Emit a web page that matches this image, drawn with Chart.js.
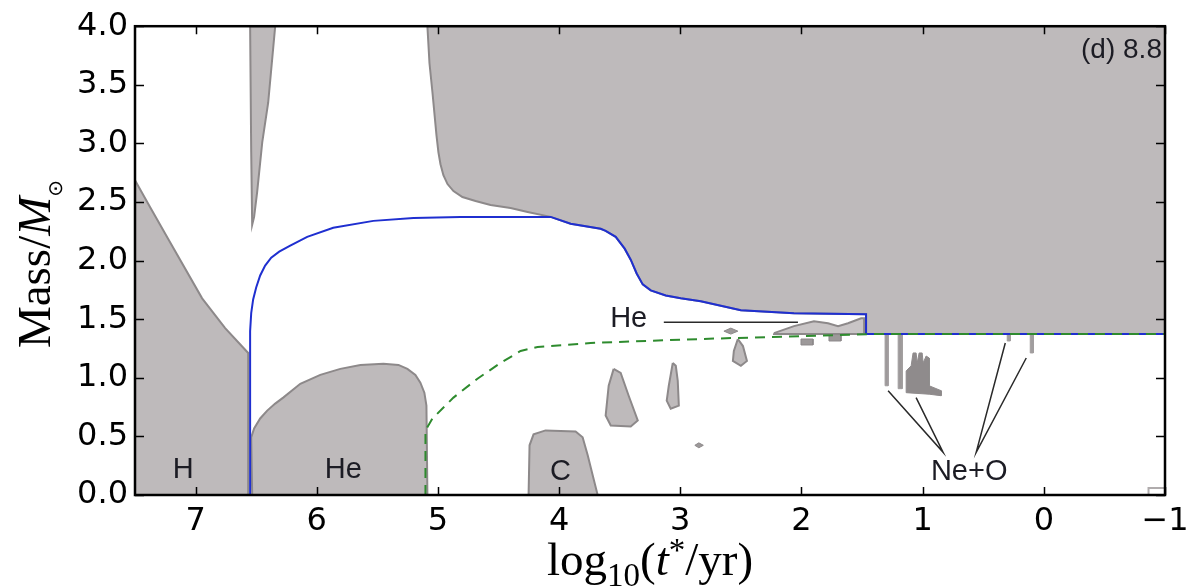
<!DOCTYPE html>
<html>
<head>
<meta charset="utf-8">
<script src="https://cdn.jsdelivr.net/npm/chart.js@4.4.1/dist/chart.umd.min.js"></script>
<style>
  html, body { margin: 0; padding: 0; background: #ffffff; }
  #wrap { width: 1204px; height: 587px; }
</style>
</head>
<body>
<div id="wrap"><canvas id="kippChart"></canvas></div>
<script>
// axis ticks
const xTicks = [7, 6, 5, 4, 3, 2, 1, 0, -1];
const yTicks = [0, 0.5, 1, 1.5, 2, 2.5, 3, 3.5, 4];

// convective regions (log10 t*, mass)
const hCoreX = [7.5, 7.376, 7.227, 6.946, 6.756, 6.566, 6.566, 7.5];
const hCoreY = [2.686, 2.458, 2.186, 1.678, 1.424, 1.212, 0, 0];
const spikeX = [6.550, 6.541, 6.533, 6.517, 6.492, 6.450, 6.401, 6.343];
const spikeY = [4.0, 2.924, 2.305, 2.373, 2.585, 3.008, 3.347, 4.0];
const heCoreX = [6.533, 6.541, 6.517, 6.467, 6.409, 6.343, 6.277, 6.136, 5.971, 5.806, 5.640, 5.450, 5.326, 5.252, 5.186, 5.145, 5.112, 5.095, 5.087];
const heCoreY = [0, 0.492, 0.568, 0.653, 0.720, 0.780, 0.831, 0.949, 1.025, 1.076, 1.110, 1.119, 1.110, 1.076, 1.025, 0.958, 0.873, 0.763, 0];
const envX = [5.087, 5.070, 5.045, 5.012, 4.996, 4.979, 4.955, 4.921, 4.872, 4.798, 4.690, 4.566, 4.401, 4.260, 4.070, 3.905, 3.657, 3.616, 3.533, 3.459, 3.409, 3.360, 3.310, 3.244, 3.120, 2.996, 2.831, 2.500, 2.062, 1.467, 1.467, -1, -1];
const envY = [4.0, 3.686, 3.432, 3.068, 2.924, 2.822, 2.729, 2.653, 2.593, 2.542, 2.508, 2.475, 2.449, 2.415, 2.373, 2.314, 2.271, 2.254, 2.203, 2.102, 2.008, 1.890, 1.797, 1.746, 1.703, 1.678, 1.653, 1.576, 1.551, 1.542, 1.373, 1.373, 4.0];
const cCoreX = [4.252, 4.244, 4.211, 4.112, 3.864, 3.806, 3.764, 3.723, 3.682];
const cCoreY = [0, 0.424, 0.517, 0.551, 0.542, 0.492, 0.339, 0.169, 0];
const blob1X = [3.550, 3.591, 3.616, 3.574, 3.409, 3.351, 3.426, 3.492];
const blob1Y = [1.076, 0.932, 0.678, 0.593, 0.585, 0.636, 0.847, 1.042];
const blob2X = [3.062, 3.095, 3.112, 3.079, 3.012, 3.021, 3.037];
const blob2Y = [1.127, 0.932, 0.805, 0.737, 0.763, 0.975, 1.102];
const blob3X = [2.525, 2.558, 2.566, 2.500, 2.450, 2.483];
const blob3Y = [1.331, 1.229, 1.144, 1.102, 1.144, 1.271];
const blob4X = [2.640, 2.583, 2.525, 2.583];
const blob4Y = [1.398, 1.424, 1.398, 1.373];
const dotAX = [2.880, 2.847, 2.810, 2.847];
const dotAY = [0.424, 0.445, 0.424, 0.403];
const heShellX = [2.227, 2.062, 1.897, 1.781, 1.698, 1.616, 1.508, 1.483, 1.483, 2.227];
const heShellY = [1.381, 1.441, 1.483, 1.466, 1.441, 1.466, 1.508, 1.508, 1.373, 1.373];
const bitAX = [2.004, 1.905, 1.905, 2.004];
const bitAY = [1.331, 1.331, 1.280, 1.280];
const bitBX = [1.773, 1.674, 1.674, 1.773];
const bitBY = [1.364, 1.364, 1.314, 1.314];
const neo1X = [1.310, 1.285, 1.285, 1.310];
const neo1Y = [1.373, 1.373, 0.932, 0.932];
const neo2X = [1.202, 1.169, 1.169, 1.202];
const neo2Y = [1.373, 1.373, 0.907, 0.907];
const neo3X = [1.136, 1.136, 1.095, 1.079, 1.054, 1.045, 1.029, 1.004, 0.996, 0.971, 0.946, 0.946, 0.847, 0.847, 0.946];
const neo3Y = [0.873, 1.059, 1.102, 1.212, 1.212, 1.127, 1.212, 1.212, 1.127, 1.186, 1.169, 0.932, 0.890, 0.847, 0.860];
const neo4X = [0.302, 0.277, 0.277, 0.302];
const neo4Y = [1.373, 1.373, 1.314, 1.314];
const neo5X = [0.112, 0.087, 0.087, 0.112];
const neo5Y = [1.373, 1.373, 1.212, 1.212];
const cornerX = [-0.864, -0.864, -1];
const cornerY = [0, 0.059, 0.059];

// core boundaries
const hFreeX = [6.550, 6.550, 6.550, 6.541, 6.525, 6.500, 6.467, 6.426, 6.376, 6.310, 6.219, 6.079, 5.864, 5.533, 5.202, 4.814, 4.070, 3.905, 3.657, 3.616, 3.533, 3.459, 3.409, 3.360, 3.310, 3.244, 3.120, 2.996, 2.831, 2.500, 2.062, 1.467, 1.467, -1];
const hFreeY = [0, 0.636, 1.398, 1.551, 1.669, 1.771, 1.873, 1.958, 2.025, 2.076, 2.127, 2.203, 2.280, 2.339, 2.364, 2.373, 2.373, 2.314, 2.271, 2.254, 2.203, 2.102, 2.008, 1.890, 1.797, 1.746, 1.703, 1.678, 1.653, 1.576, 1.551, 1.542, 1.373, 1.373];
const heFreeX = [5.103, 5.103, 5.045, 4.872, 4.674, 4.483, 4.318, 4.178, 3.740, 2.831, 2.004, 1.426, -1];
const heFreeY = [0, 0.551, 0.653, 0.831, 0.992, 1.127, 1.229, 1.263, 1.297, 1.331, 1.356, 1.373, 1.373];

// annotation leaders
const heLeadX = [3.136, 2.029];
const heLeadY = [1.475, 1.475];
const neLeadAX = [1.285, 0.831, 1.054];
const neLeadAY = [0.890, 0.364, 0.831];
const neLeadBX = [0.318, 0.558, 0.145];
const neLeadBY = [1.297, 0.364, 1.169];

// labels
const annText = ["H", "He", "C", "He", "Ne+O"];
const annX = [7.103, 5.781, 3.988, 3.426, 0.616];
const annY = [0.21, 0.21, 0.20, 1.50, 0.195];
const panelText = "(d) 8.8";
const panelX = -0.975;
const panelY = 3.797;

const GRAY = "#bebabb";
const EDGE = "#8d898a";

function pts(xs, ys, close) {
  var out = xs.map(function (x, i) { return { x: x, y: ys[i] }; });
  if (close) out.push({ x: xs[0], y: ys[0] });
  return out;
}
function region(xs, ys, fillCol, edgeCol, width) {
  return {
    data: pts(xs, ys, true),
    fill: "shape",
    backgroundColor: fillCol || GRAY,
    borderColor: edgeCol || EDGE,
    borderWidth: width === undefined ? 2 : width,
    pointRadius: 0,
    tension: 0,
    order: 10,
  };
}
function line(xs, ys, color, width, dash, order) {
  return {
    data: pts(xs, ys, false),
    fill: false,
    borderColor: color,
    borderWidth: width,
    borderDash: dash || [],
    pointRadius: 0,
    tension: 0,
    order: order,
  };
}

// ticks pointing inwards on all four sides + frame
const frameTicks = {
  id: "frameTicks",
  afterDatasetsDraw: function (chart) {
    var ctx = chart.ctx, a = chart.chartArea, xs = chart.scales.x, ys = chart.scales.y;
    ctx.save();
    ctx.strokeStyle = "#000";
    ctx.lineWidth = 1.5;
    ctx.beginPath();
    xs.ticks.forEach(function (t) {
      var px = Math.round(xs.getPixelForValue(t.value)) + 0.5;
      ctx.moveTo(px, a.top); ctx.lineTo(px, a.top + 8);
      ctx.moveTo(px, a.bottom); ctx.lineTo(px, a.bottom - 8);
    });
    ys.ticks.forEach(function (t) {
      var py = Math.round(ys.getPixelForValue(t.value)) + 0.5;
      ctx.moveTo(a.left, py); ctx.lineTo(a.left + 9, py);
      ctx.moveTo(a.right, py); ctx.lineTo(a.right - 9, py);
    });
    ctx.stroke();
    ctx.lineWidth = 2.5;
    ctx.strokeRect(a.left, a.top, a.right - a.left, a.bottom - a.top);
    ctx.restore();
  },
};

function drawRuns(ctx, runs, cx, base) {
  var total = 0;
  runs.forEach(function (r) { ctx.font = r.f; total += ctx.measureText(r.t).width; });
  var x = cx - total / 2;
  runs.forEach(function (r) {
    ctx.font = r.f;
    ctx.fillText(r.t, x, base + (r.dy || 0));
    x += ctx.measureText(r.t).width;
  });
}

const MAIN = '47px "Liberation Serif"';
const ITAL = 'italic 47px "Liberation Serif"';
const SMALL = '33px "Liberation Serif"';

const labelsPlugin = {
  id: "labelsPlugin",
  afterDraw: function (chart) {
    var ctx = chart.ctx, a = chart.chartArea, xs = chart.scales.x, ys = chart.scales.y;
    ctx.save();
    ctx.fillStyle = "#1c1c24";
    ctx.font = '29px "Liberation Sans"';
    ctx.textAlign = "center";
    ctx.textBaseline = "middle";
    annText.forEach(function (t, i) {
      ctx.fillText(t, xs.getPixelForValue(annX[i]), ys.getPixelForValue(annY[i]));
    });
    ctx.font = '28px "Liberation Sans"';
    ctx.textAlign = "right";
    ctx.fillText(panelText, xs.getPixelForValue(panelX), ys.getPixelForValue(panelY));

    // axis titles
    ctx.fillStyle = "#000";
    ctx.textAlign = "left";
    ctx.textBaseline = "alphabetic";
    drawRuns(ctx, [
      { t: "log", f: MAIN },
      { t: "10", f: SMALL, dy: 11 },
      { t: "(", f: MAIN },
      { t: "t", f: ITAL },
      { t: "*", f: SMALL, dy: -14 },
      { t: "/yr)", f: MAIN },
    ], (a.left + a.right) / 2, 575);

    ctx.translate(50, 264);
    ctx.rotate(-Math.PI / 2);
    drawRuns(ctx, [
      { t: "Mass/", f: MAIN },
      { t: "M", f: ITAL },
      { t: "\u2299", f: '20px "DejaVu Sans"', dy: 12 },
    ], 0, 0);
    ctx.restore();
  },
};

new Chart(document.getElementById("kippChart"), {
  type: "line",
  data: {
    datasets: [
      region(hCoreX, hCoreY),
      region(spikeX, spikeY),
      region(heCoreX, heCoreY),
      region(envX, envY),
      region(cCoreX, cCoreY),
      region(blob1X, blob1Y),
      region(blob2X, blob2Y),
      region(blob3X, blob3Y),
      region(blob4X, blob4Y, "#9d999a", EDGE, 1),
      region(dotAX, dotAY, "#9d999a", EDGE, 1),
      region(heShellX, heShellY, "#c9c5c6", EDGE, 2),
      region(bitAX, bitAY, "#9d999a", EDGE, 1),
      region(bitBX, bitBY, "#9d999a", EDGE, 1),
      region(neo1X, neo1Y, "#9d999a", "#a29e9f", 1),
      region(neo2X, neo2Y, "#9d999a", "#a29e9f", 1),
      region(neo3X, neo3Y, "#8f8b8c", "#8f8b8c", 1),
      region(neo4X, neo4Y, "#a29e9f", "#a29e9f", 1),
      region(neo5X, neo5Y, "#a29e9f", "#a29e9f", 1),
      line(cornerX, cornerY, "#b0acad", 2, [], 5),
      line(hFreeX, hFreeY, "#1f2fd0", 2, [], 2),
      line(heFreeX, heFreeY, "#2e8b2e", 2, [10, 7], 1),
      line(heLeadX, heLeadY, "#2a2a2a", 1.5, [], 0),
      line(neLeadAX, neLeadAY, "#2a2a2a", 1.5, [], 0),
      line(neLeadBX, neLeadBY, "#2a2a2a", 1.5, [], 0),
    ],
  },
  options: {
    responsive: true,
    maintainAspectRatio: false,
    animation: false,
    devicePixelRatio: 1,
    layout: { padding: { left: 0, right: 39, top: 23, bottom: 0 } },
    plugins: {
      legend: { display: false },
      tooltip: { enabled: false },
    },
    scales: {
      x: {
        type: "linear",
        reverse: true,
        min: -1,
        max: 7.5,
        afterBuildTicks: function (scale) {
          scale.ticks = xTicks.map(function (v) { return { value: v }; });
        },
        afterFit: function (scale) { scale.height = 92; },
        grid: { display: false, drawTicks: false },
        border: { display: false },
        ticks: {
          padding: 7,
          color: "#000",
          font: { family: "DejaVu Sans", size: 32 },
          maxRotation: 0,
          autoSkip: false,
          callback: function (v) { return v < 0 ? "\u2212" + Math.abs(v) : String(v); },
        },
      },
      y: {
        type: "linear",
        min: 0,
        max: 4,
        afterBuildTicks: function (scale) {
          scale.ticks = yTicks.map(function (v) { return { value: v }; });
        },
        afterFit: function (scale) { scale.width = 135; },
        grid: { display: false, drawTicks: false },
        border: { display: false },
        ticks: {
          padding: 7,
          color: "#000",
          font: { family: "DejaVu Sans", size: 32 },
          autoSkip: false,
          callback: function (v) { return v.toFixed(1); },
        },
      },
    },
  },
  plugins: [frameTicks, labelsPlugin],
});
</script>
</body>
</html>
